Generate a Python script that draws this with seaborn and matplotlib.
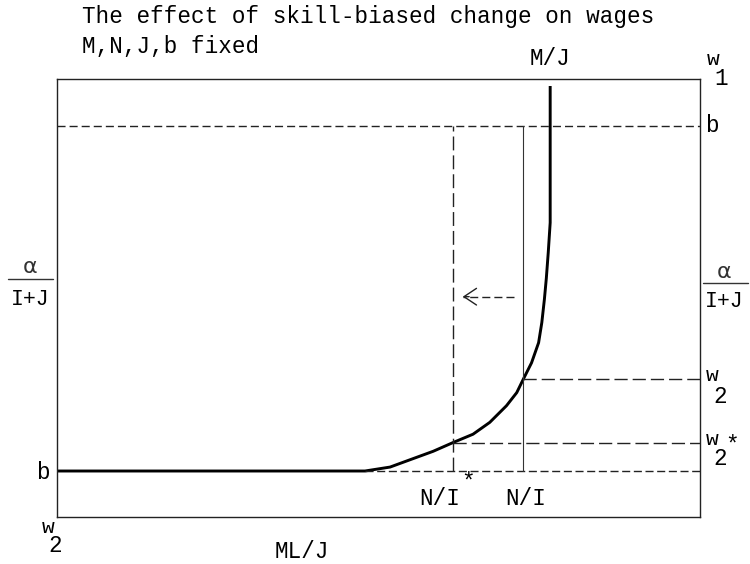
import numpy as np
import pandas as pd
import seaborn as sns
import matplotlib
matplotlib.use("Agg")
import matplotlib.pyplot as plt

# ---------------- data (diagram units, box = 0..100 x 0..100) ----------------
curve_x = [0.0, 47.9, 51.8, 54.4, 58.5, 61.6, 64.7, 67.3, 69.9, 71.5, 72.5, 73.8, 74.9, 75.4, 75.8,
           76.1, 76.4, 76.7, 76.7]
curve_y = [10.5, 10.5, 11.4, 12.8, 15.0, 17.0, 18.9, 21.6, 25.4, 28.4, 31.4, 35.2, 39.8, 44.4, 49.7,
           54.5, 60.4, 67.2, 98.4]

b_level = 10.5          # lower b (w2 floor)
b_upper = 89.3          # upper b (w1 level)
w2_level = 31.4
w2_star_level = 17.0
NI = 72.5
NI_star = 61.6
b_dash_start = 47.9
arrow_y = 50.3
arrow_from = 71.1
arrow_to = 63.1

title_lines = ["The effect of skill-biased change on wages", "M,N,J,b fixed"]

W, H = 750, 564
sns.set_theme(style="white")
mono = "Liberation Mono"
plt.rcParams["font.family"] = [mono, "DejaVu Sans"]

fig = plt.figure(figsize=(7.5, 5.64), dpi=100)
ax = fig.add_axes([57 / W, 1 - 517 / H, 643 / W, 438 / H])
ax.set_xlim(0, 100)
ax.set_ylim(0, 100)
ax.set_xticks([])
ax.set_yticks([])
for s in ax.spines.values():
    s.set_linewidth(1.0)
    s.set_color("#222222")
    s.set_visible(True)

df = pd.DataFrame({"x": curve_x, "y": curve_y})
sns.lineplot(data=df, x="x", y="y", sort=False, estimator=None, errorbar=None, ax=ax,
             color="black", lw=2.1, solid_capstyle="butt", solid_joinstyle="round")
ax.set_xlabel("")
ax.set_ylabel("")

# dashed reference lines
ax.axhline(b_upper, color="#222222", lw=1.0, ls=(0, (5.8, 2.9)))
ax.plot([b_dash_start, 100], [b_level, b_level], color="#222222", lw=1.0, ls=(0, (5.8, 2.6)))
ax.plot([NI_star, NI_star], [b_level, b_upper], color="#222222", lw=1.0, ls=(0, (10, 3.6)))
ax.plot([NI, NI], [b_level, b_upper], color="#333333", lw=0.8)
ax.plot([NI, 100], [w2_level, w2_level], color="#222222", lw=1.0, ls=(0, (9.5, 3.6)))
ax.plot([NI_star, 100], [w2_star_level, w2_star_level], color="#222222", lw=1.0, ls=(0, (9.5, 3.6)))

# arrow (dashed shaft + open head)
ax.plot([arrow_from, arrow_to], [arrow_y, arrow_y], color="#222222", lw=1.0, ls=(0, (5.8, 2.9)))
ax.annotate("", xy=(arrow_to, arrow_y), xytext=(arrow_to + 1.0, arrow_y),
            arrowprops=dict(arrowstyle="->,head_length=0.75,head_width=0.5", lw=1.0, color="#222222",
                            shrinkA=0, shrinkB=0))


def P(px, py):
    return px / W, 1 - py / H


fs = 16.3
tk = dict(color="black", family=[mono, "DejaVu Sans"])

fig.text(*P(82, 23), title_lines[0], fontsize=fs, ha="left", va="baseline", **tk)
fig.text(*P(82, 53), title_lines[1], fontsize=fs, ha="left", va="baseline", **tk)
fig.text(*P(550, 65), "M/J", fontsize=fs, ha="center", va="baseline", **tk)
fig.text(*P(713, 65), "w", fontsize=fs - 1, ha="center", va="baseline", **tk)
fig.text(*P(721, 85), "1", fontsize=fs, ha="center", va="baseline", **tk)
fig.text(*P(712, 132), "b", fontsize=fs, ha="center", va="baseline", **tk)
fig.text(*P(43, 479), "b", fontsize=fs, ha="center", va="baseline", **tk)

# alpha / (I+J) labels
for cx, ay, bary, iy, x0, x1 in [(30, 267, 279, 305, 8, 53), (724, 272, 283, 307, 703, 748)]:
    fig.text(*P(cx, ay), "α", fontsize=16, ha="center", va="center", color="#333333",
             family=["DejaVu Sans"])
    fig.add_artist(plt.Line2D([x0 / W, x1 / W], [1 - bary / H, 1 - bary / H],
                              transform=fig.transFigure, color="#333333", lw=1.0))
    fig.text(*P(cx, iy), "I+J", fontsize=15.5, ha="center", va="baseline", **tk)

# w2, w2* labels
fig.text(*P(712, 381), "w", fontsize=fs - 1, ha="center", va="baseline", **tk)
fig.text(*P(720, 403), "2", fontsize=fs, ha="center", va="baseline", **tk)
fig.text(*P(712, 445), "w", fontsize=fs - 1, ha="center", va="baseline", **tk)
fig.text(*P(732, 452), "*", fontsize=fs, ha="center", va="baseline", **tk)
fig.text(*P(720, 465), "2", fontsize=fs, ha="center", va="baseline", **tk)

# N/I labels
fig.text(*P(440, 505), "N/I", fontsize=fs, ha="center", va="baseline", **tk)
fig.text(*P(468, 489), "*", fontsize=fs, ha="center", va="baseline", **tk)
fig.text(*P(526, 505), "N/I", fontsize=fs, ha="center", va="baseline", **tk)

# bottom labels
fig.text(*P(48, 533), "w", fontsize=fs - 1, ha="center", va="baseline", **tk)
fig.text(*P(55, 552), "2", fontsize=fs, ha="center", va="baseline", **tk)
fig.text(*P(302, 558), "ML/J", fontsize=fs, ha="center", va="baseline", **tk)

fig.savefig("out.png", dpi=100, facecolor="white")
